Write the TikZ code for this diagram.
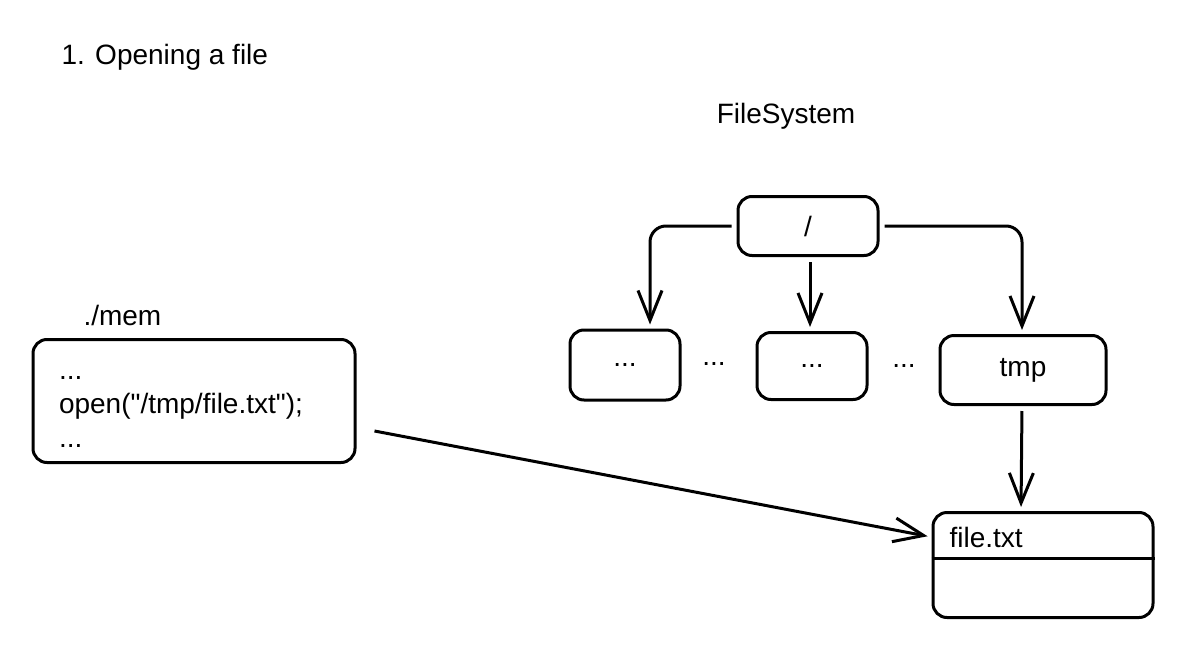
\documentclass[tikz,border=0pt]{standalone}
\usepackage{fontspec}
\setmainfont{Liberation Sans}[Ligatures=TeXOff]
\usetikzlibrary{arrows.meta}

\begin{document}
\begin{tikzpicture}[x=1pt,y=-1pt,
  box/.style={draw,line width=3pt,rounded corners=14pt,font=\fontsize{28}{34}\selectfont},
  lbl/.style={font=\fontsize{28}{34}\selectfont},
  link/.style={->,line width=3pt,shorten >=4pt,shorten <=5pt},
  >={Straight Barb[length=30pt,width=24pt]}]
\useasboundingbox (0,0) rectangle (1189,648);
% labels
\node[lbl,anchor=west] (title) at (58,57) {1. Opening a file};
\node[lbl] (fs) at (786,116) {FileSystem};
\node[lbl,anchor=west] (memname) at (80,315) {./mem};
% file system tree
\node[box,minimum width=140pt,minimum height=59pt] (root) at (808,226) {/};
\node[box,minimum width=110pt,minimum height=70pt] (dirA) at (625,365) {...};
\node[lbl] (gapA) at (714,364) {...};
\node[box,minimum width=110pt,minimum height=67pt] (dirB) at (812,366) {...};
\node[lbl] (gapB) at (904,366) {...};
\node[box,minimum width=166pt,minimum height=69pt] (tmp) at (1023,370) {tmp};
% the open file
\node[box,minimum width=220pt,minimum height=105pt] (file) at (1043,565) {};
\node[lbl,anchor=west] (fname) at (946,537) {file.txt};
\draw[line width=3pt] (file.west |- 0,558) -- (file.east |- 0,558);
% program
\node[box,text width=270pt,align=left,inner xsep=26pt,minimum height=123pt] (mem) at (194,401)
  {\rule{0pt}{24pt}...\\open("/tmp/file.txt");\\...};
% connectors
\draw[link,rounded corners=16pt] (root.west) -| ([xshift=25pt]dirA.north);
\draw[link] ([xshift=2pt]root.south) -- ([xshift=-2pt]dirB.north);
\draw[link,rounded corners=16pt] (root.east) -| ([xshift=-1pt]tmp.north);
\draw[link] ([xshift=-1pt]tmp.south) -- ([xshift=-22pt]file.north);
\draw[link,shorten <=0pt] ([xshift=18pt,yshift=-30pt]mem.east) -- ([yshift=28pt]file.west);
\end{tikzpicture}
\end{document}
